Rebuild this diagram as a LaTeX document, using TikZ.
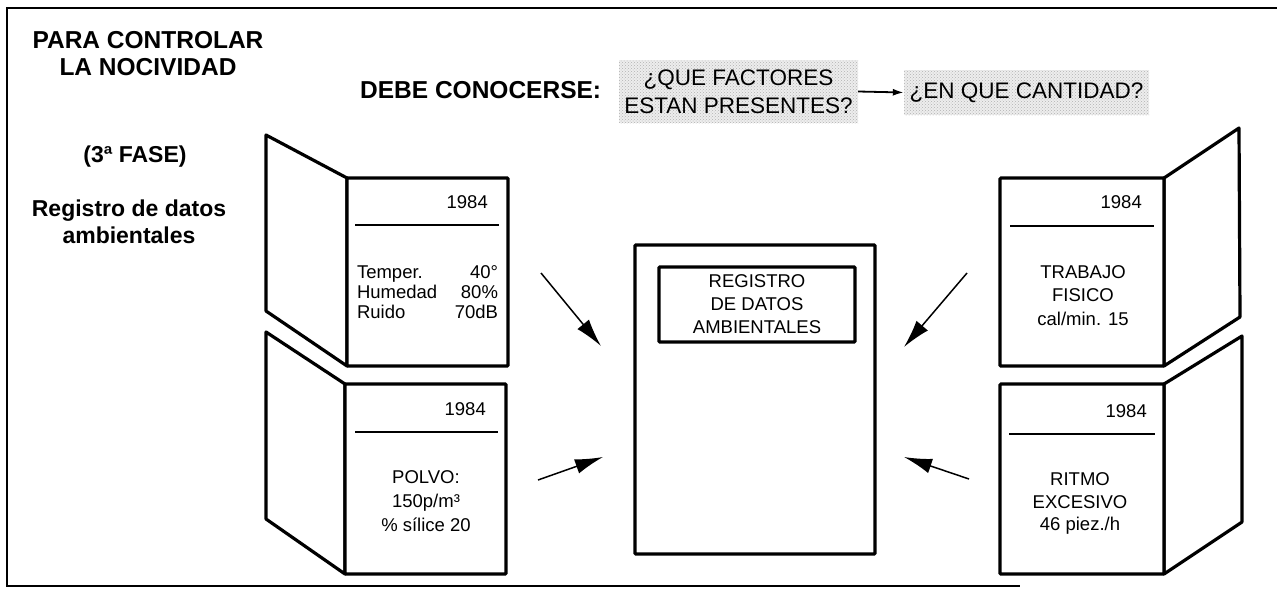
\documentclass[tikz,border=0pt]{standalone}
\usepackage{fontspec}
\setmainfont{Liberation Sans}
\usetikzlibrary{arrows.meta,patterns}

\newcommand{\dataline}[2]{\makebox[141pt]{#1\hfill #2}}

\begin{document}
\begin{tikzpicture}[x=1pt,y=-1pt,
  every node/.style={inner sep=0pt},
  head/.style={font=\fontsize{24.5}{27}\selectfont\bfseries, align=center},
  body/.style={font=\fontsize{18.5}{23}\selectfont, align=center},
  flap/.style={draw, line width=3.2pt, line join=round},
  sheet/.style={draw, line width=3.2pt, fill=white, rounded corners=1pt},
  rule/.style={line width=2pt},
  cloud/.style={preaction={fill=black!7}, pattern=crosshatch dots, pattern color=black!30,
    font=\fontsize{22.5}{28}\selectfont, align=center},
  bigarrow/.style={line width=1.5pt, -{Latex[length=28pt,width=15pt]}}]
\useasboundingbox (0,0) rectangle (1277,589);

% frame
\draw[line width=1.5pt] (1277,8) -- (7,8) -- (7,586) -- (1020,586);

% titles
\node[head] (title) at (148,53.5) {PARA CONTROLAR\\LA NOCIVIDAD};
\node[head, anchor=west] (debe) at (360,90) {DEBE CONOCERSE:};
\node[head, font=\fontsize{23}{27}\selectfont\bfseries] (fase) at (135,157) {(3ª FASE)};
\node[head, font=\fontsize{23}{27}\selectfont\bfseries] (regdat) at (129,221.5) {Registro de datos\\ambientales};

% questions
\node[cloud, minimum width=239pt, minimum height=63pt] (fac) at (738.5,91.5) {¿QUE FACTORES\\ESTAN PRESENTES?};
\node[cloud, minimum width=245pt, minimum height=45pt] (cant) at (1026.5,92.5) {¿EN QUE CANTIDAD?};
\draw[line width=1.8pt, -{Latex[length=11pt,width=7pt]}] (fac.east) -- (cant.west);

% central register
\node[sheet, minimum width=240pt, minimum height=309pt] (reg) at (755,399.5) {};
\node[sheet, body, minimum width=196pt, minimum height=75pt] (regtit) at (757,304.5) {REGISTRO\\DE DATOS\\AMBIENTALES};

% top left book
\draw[flap] (266,135) -- (347,178) -- (347,366) -- (266,311) -- cycle;
\node[sheet, minimum width=161pt, minimum height=188pt] (tl) at (427.5,272) {};
\node[body, anchor=east] (tlyear) at (488,202) {1984};
\draw[rule] (355,225) -- (499,225);
\node[body, font=\fontsize{18.5}{20}\selectfont, align=left] (tltext) at (427.5,292)
  {\dataline{Temper.}{40°}\\\dataline{Humedad}{80\%}\\\dataline{Ruido}{70dB}};

% bottom left book
\draw[flap] (266,332) -- (345,384) -- (345,574) -- (266,519) -- cycle;
\node[sheet, minimum width=161pt, minimum height=190pt] (bl) at (425.5,479) {};
\node[body, anchor=east] (blyear) at (486,409) {1984};
\draw[rule] (355,432) -- (498,432);
\node[body, font=\fontsize{18.5}{24}\selectfont] (bltext) at (426,501) {POLVO:\\150p/m³\\\% sílice 20};

% top right book
\draw[flap] (1164,178) -- (1239,128) -- (1240,317) -- (1164,366) -- cycle;
\node[sheet, minimum width=164pt, minimum height=188pt] (tr) at (1082,272) {};
\node[body, anchor=east] (tryear) at (1142,202) {1984};
\draw[rule] (1010,226) -- (1154,226);
\node[body, font=\fontsize{18.5}{23.5}\selectfont] (trtext) at (1083,295.5) {TRABAJO\\FISICO\\cal/min. 15};

% bottom right book
\draw[flap] (1164,384) -- (1242,336) -- (1242,522) -- (1164,574) -- cycle;
\node[sheet, minimum width=164pt, minimum height=190pt] (br) at (1082,479) {};
\node[body, anchor=east] (bryear) at (1147,411) {1984};
\draw[rule] (1009,434) -- (1155,434);
\node[body, font=\fontsize{18.5}{22.5}\selectfont] (brtext) at (1080,503.5) {RITMO\\EXCESIVO\\46 piez./h};

% arrows to the register
\coordinate (tlout) at (541,273);
\coordinate (tlin) at (601,346);
\coordinate (blout) at (538,480);
\coordinate (blin) at (603,457);
\coordinate (trout) at (967,273);
\coordinate (trin) at (904,347);
\coordinate (brout) at (969,479);
\coordinate (brin) at (904,457);
\draw[bigarrow] (tlout) -- (tlin);
\draw[bigarrow] (blout) -- (blin);
\draw[bigarrow] (trout) -- (trin);
\draw[bigarrow] (brout) -- (brin);
\end{tikzpicture}
\end{document}
